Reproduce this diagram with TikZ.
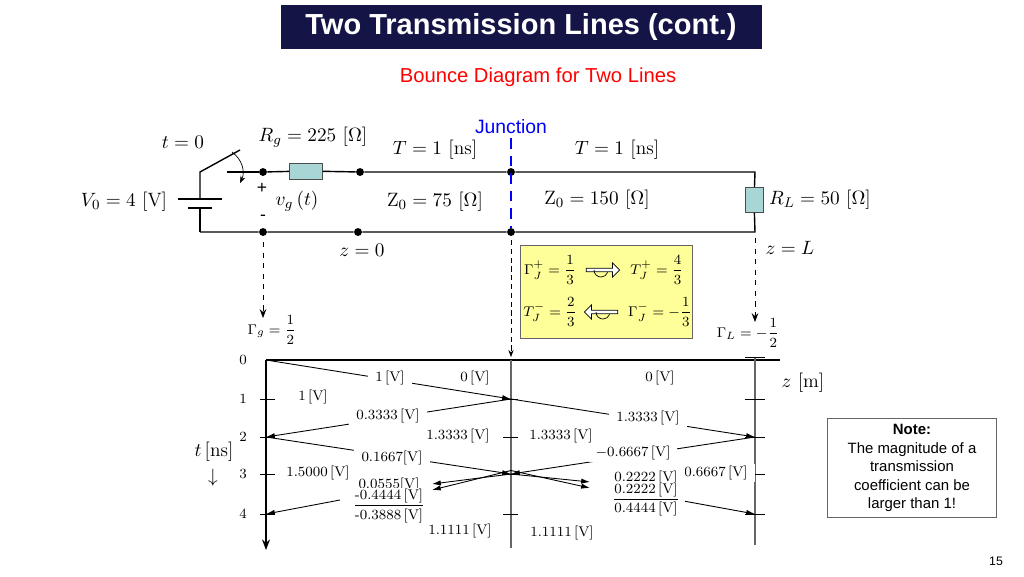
\documentclass[tikz,border=0pt]{standalone}
\usepackage{fontspec}
\usepackage{amsmath}
\setsansfont{Liberation Sans}
\usetikzlibrary{arrows.meta, shapes.arrows, positioning}

\definecolor{navy}{RGB}{20,20,70}
\definecolor{resfill}{RGB}{168,214,214}
\definecolor{notebox}{RGB}{255,255,153}

\tikzset{
  dot/.style={fill=black, shape=circle, inner sep=0, minimum size=4.5pt},
  res/.style={draw=black!70, fill=resfill},
  lbl/.style={font=\fontsize{11}{13}\selectfont},
  vlbl/.style={font=\fontsize{8}{9}\selectfont, fill=white, inner xsep=4pt, inner ysep=1pt},
  ray/.style={-{Latex[length=5pt,width=3pt]}, line width=0.5pt},
  hollow/.style={single arrow, draw, fill=white, minimum height=19pt, minimum width=8pt, single arrow head extend=2pt, inner sep=0.5pt},
}

\begin{document}
\begin{tikzpicture}[x=0.2mm, y=-0.2mm]
\useasboundingbox (0,0) rectangle (1024,576);

% title
\node[fill=navy, minimum width=481*0.2mm, minimum height=44*0.2mm, text=white,
font=\sffamily\bfseries\fontsize{16.5}{18}\selectfont] (title) at (521,27) {Two Transmission Lines (cont.)};
\node[red, font=\sffamily\fontsize{11.5}{13}\selectfont] (sub) at (538,77) {Bounce Diagram for Two Lines};

% circuit
\coordinate (bl) at (200,232);
\coordinate (sw) at (200,172);
\coordinate (swc) at (227,172);
\node[dot] (a1) at (263,172) {};
\node[dot] (a2) at (263,232) {};
\node[dot] (b1) at (360,172) {};
\node[dot] (b2) at (358,232) {};
\node[dot] (j1) at (511,172) {};
\node[dot] (j2) at (511,232) {};
\coordinate (r1) at (755,172);
\coordinate (r2) at (755,232);
\node[res, minimum width=33*0.2mm, minimum height=16*0.2mm, inner sep=0] (Rg) at (306,171) {};
\node[res, minimum width=18*0.2mm, minimum height=25*0.2mm, inner sep=0] (RL) at (754,200) {};

\draw[line width=0.8pt] (bl) -- (200,208);
\draw[line width=1.6pt] (188,208) -- (212,208);
\draw[line width=1.6pt] (178,199) -- (222,199);
\draw[line width=0.8pt] (200,199) -- (sw) -- (240,150);
\draw[line width=1.2pt] (swc) -- (a1);
\draw[-{Stealth[length=4pt]}] (232,152) to[bend left=40] (240,183);
\draw[line width=0.8pt] (a1) -- (Rg) -- (b1) -- (j1) -- (r1) -- (RL) -- (r2) -- (j2) -- (b2) -- (a2) -- (bl);

% junction
\node[blue, font=\sffamily\fontsize{11}{13}\selectfont] (jn) at (511,127) {Junction};
\draw[blue, dashed, line width=1.4pt, dash pattern=on 6pt off 4pt] (511,138) -- (j2);
\coordinate (jt) at (511,357);
\draw[densely dashed, -{Stealth[length=4pt]}] (511,240) -- (jt);
\coordinate (gt) at (263,318);
\coordinate (lt) at (755,322);
\draw[dashed, -{Stealth[length=5pt]}] (263,242) -- (gt);
\draw[dashed, -{Stealth[length=5pt]}] (755,238) -- (lt);

% circuit labels
\node[lbl] (t0) at (183,142) {$t=0$};
\node[lbl] (Rgl) at (313,137) {$R_g=225\,\left[\Omega\right]$};
\node[lbl] (T1) at (435,150) {$T=1\,\left[\mathrm{ns}\right]$};
\node[lbl] (T2) at (617,150) {$T=1\,\left[\mathrm{ns}\right]$};
\node[lbl] (V0) at (124,202) {$V_0=4\,\left[\mathrm{V}\right]$};
\node[font=\sffamily] (plus) at (262,188) {+};
\node[font=\sffamily] (minus) at (263,218) {-};
\node[lbl] (vg) at (297,201) {$v_g\left(t\right)$};
\node[lbl] (Z1) at (435,202) {$\mathrm{Z}_0=75\,\left[\Omega\right]$};
\node[lbl] (Z2) at (597,200) {$\mathrm{Z}_0=150\,\left[\Omega\right]$};
\node[lbl] (RLl) at (820,200) {$R_L=50\,\left[\Omega\right]$};
\node[lbl] (z0) at (362,250) {$z=0$};
\node[lbl] (zL) at (790,248) {$z=L$};

% coefficients
\draw[black!60, fill=notebox] (520,245) rectangle (692,338);
\begin{scope}[font=\fontsize{8}{9}\selectfont, inner sep=0.5pt]
\node (gp) at (550,270) {$\Gamma_J^+=\dfrac{1}{3}$};
\node (tp) at (657,270) {$T_J^+=\dfrac{4}{3}$};
\node (tm) at (550,312) {$T_J^-=\dfrac{2}{3}$};
\node (gm) at (660,312) {$\Gamma_J^-=-\dfrac{1}{3}$};
\node[hollow] (ap) at (602,270) {};
\node[hollow, shape border rotate=180] (am) at (602,312) {};
\node (gg) at (272,330) {$\Gamma_g=\dfrac{1}{2}$};
\node (gl) at (748,333) {$\Gamma_L=-\dfrac{1}{2}$};
\end{scope}
\draw (594,270) arc (180:340:4pt);
\draw (596,312) arc (180:340:4pt);

% bounce diagram axes
\coordinate (o) at (266,360);
\coordinate (zend) at (780,360);
\coordinate (tend) at (266,550);
\draw[line width=1.2pt] (o) -- (zend);
\draw[line width=1.2pt, -{Stealth[length=6pt]}] (o) -- (tend);
\draw[black!60, line width=1pt] (511,360) -- (511,548);
\draw[black!60, line width=1pt] (755,357) -- (755,545);
\draw (745,357) -- (765,357);
\node[lbl] (zm) at (803,383) {$z\ [\mathrm{m}]$};
\node[lbl] (tns) at (214,452) {$t\,[\mathrm{ns}]$};
\node[lbl] (tar) at (213,478) {$\downarrow$};
\foreach \k/\y in {0/360,1/399,2/437,3/474,4/514}{
  \node[font=\fontsize{8}{9}\selectfont] at (243,\y) {\k};
  \coordinate (L\k) at (266,\y);
  \coordinate (J\k) at (511,\y);
  \coordinate (R\k) at (755,\y);
}
\foreach \y in {399,437,474,514}{
  \draw (260,\y) -- (275,\y);
  \draw (503,\y) -- (518,\y);
  \draw (745,\y) -- (765,\y);
}

% rays
\draw[ray] (L0) -- (J1);
\draw[ray] (J1) -- (L2);
\draw[ray] (J1) -- (R2);
\draw[ray] (L2) -- (J3);
\draw[ray] (R2) -- (J3);
\coordinate (pa) at (590,482);
\coordinate (pb) at (590,488);
\coordinate (qa) at (432,484);
\coordinate (qb) at (432,490);
\draw[ray] (J3) -- (pa);
\draw[ray] ([yshift=2pt]J3) -- (pb);
\draw[ray] (J3) -- (qa);
\draw[ray] ([yshift=2pt]J3) -- (qb);
\coordinate (ra) at (678,500);
\coordinate (la) at (340,500);
\draw[ray] (ra) -- (R4);
\draw[ray] (la) -- (L4);

% voltages
\begin{scope}[every node/.style={vlbl}]
\node at (390,378) {1\,[V]};
\node at (475,378) {0\,[V]};
\node at (660,378) {0\,[V]};
\node at (313,397) {1\,[V]};
\node at (388,416) {0.3333\,[V]};
\node at (648,418) {1.3333\,[V]};
\node at (458,436) {1.3333\,[V]};
\node at (561,436) {1.3333\,[V]};
\node at (633,453) {$-$0.6667\,[V]};
\node at (392,458) {0.1667[V]};
\node at (318,473) {1.5000\,[V]};
\node at (716,473) {0.6667\,[V]};
\node at (389,485) {0.0555[V]};
\node at (389,498) {\underline{-0.4444\,[V]}};
\node at (389,516) {-0.3888\,[V]};
\node at (646,478) {0.2222\,[V]};
\node at (646,492) {\underline{0.2222\,[V]}};
\node at (646,509) {0.4444\,[V]};
\node at (460,531) {1.1111\,[V]};
\node at (562,533) {1.1111\,[V]};
\end{scope}

% note
\node[draw=black!60, line width=0.8pt, minimum width=169*0.2mm, minimum height=98*0.2mm, align=center,
font=\sffamily\fontsize{8.5}{10.5}\selectfont] (note) at (912,468)
{\textbf{Note:}\\The magnitude of a\\transmission\\coefficient can be\\larger than 1!};
\node[font=\sffamily\fontsize{7}{8}\selectfont] (pg) at (996,561) {15};

\end{tikzpicture}
\end{document}
